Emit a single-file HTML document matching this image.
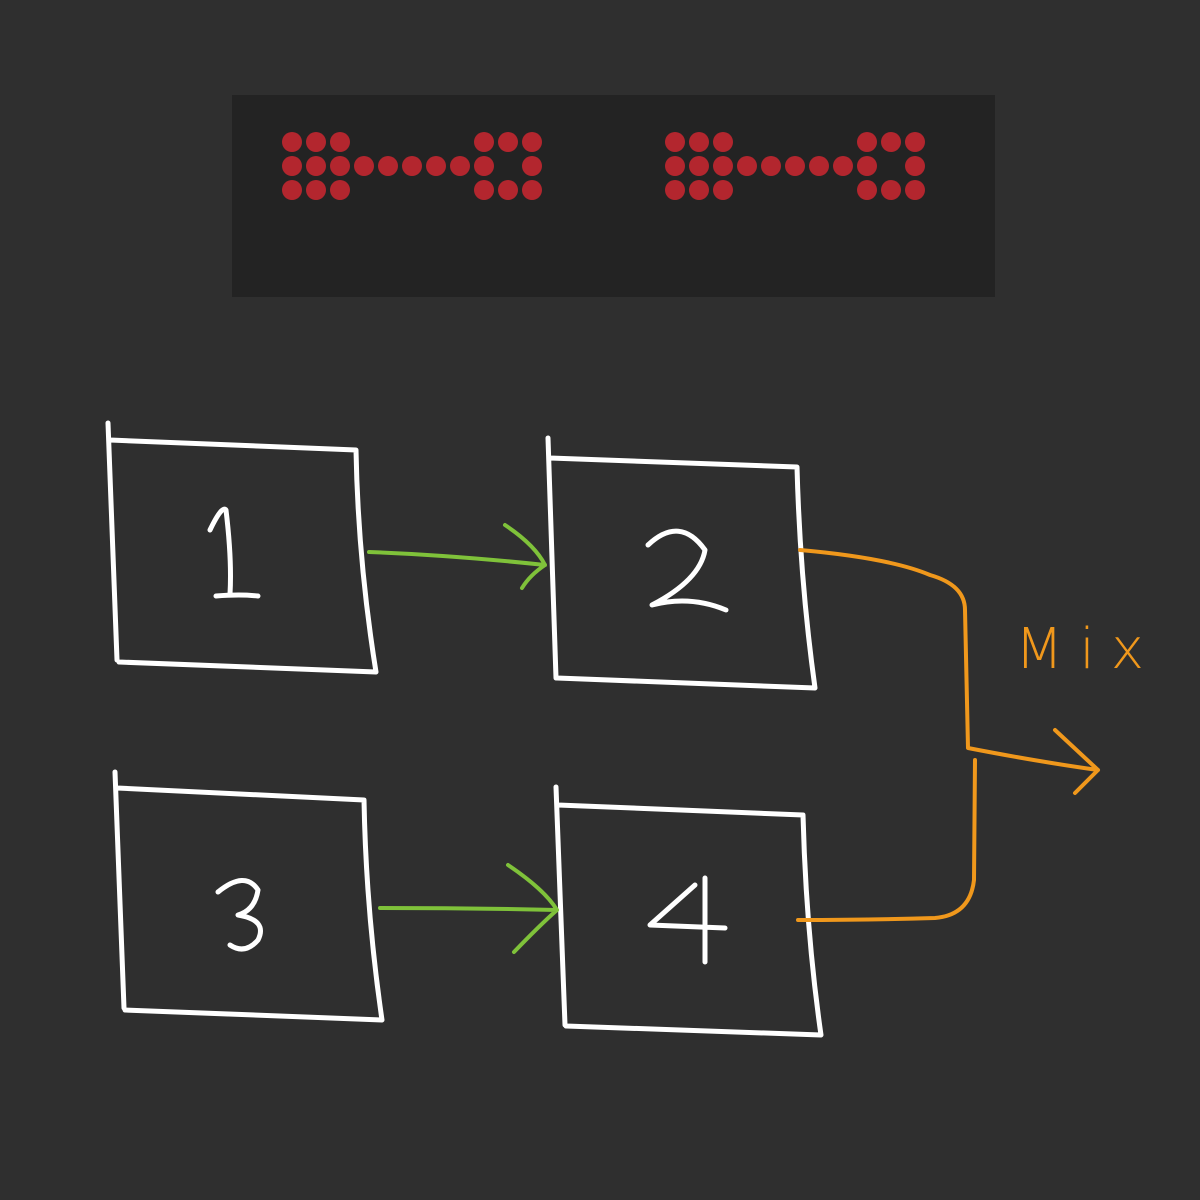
<!DOCTYPE html>
<html><head><style>
html,body{margin:0;padding:0;background:#2f2f2f;}
svg{display:block;}
</style></head><body>
<svg width="1200" height="1200" viewBox="0 0 1200 1200" xmlns="http://www.w3.org/2000/svg">
<rect width="1200" height="1200" fill="#2f2f2f"/>
<rect x="232" y="95" width="763" height="202" fill="#232323"/>
<g fill="#b3262e">
<g id="g1">
<circle cx="292" cy="142" r="10"/><circle cx="316" cy="142" r="10"/><circle cx="340" cy="142" r="10"/>
<circle cx="292" cy="166" r="10"/><circle cx="316" cy="166" r="10"/><circle cx="340" cy="166" r="10"/>
<circle cx="292" cy="190" r="10"/><circle cx="316" cy="190" r="10"/><circle cx="340" cy="190" r="10"/>
<circle cx="364" cy="166" r="10"/><circle cx="388" cy="166" r="10"/><circle cx="412" cy="166" r="10"/><circle cx="436" cy="166" r="10"/><circle cx="460" cy="166" r="10"/>
<circle cx="484" cy="142" r="10"/><circle cx="508" cy="142" r="10"/><circle cx="532" cy="142" r="10"/>
<circle cx="484" cy="166" r="10"/><circle cx="532" cy="166" r="10"/>
<circle cx="484" cy="190" r="10"/><circle cx="508" cy="190" r="10"/><circle cx="532" cy="190" r="10"/>
</g>
<use href="#g1" x="383"/>
</g>
<g fill="none" stroke="#ffffff" stroke-width="5" stroke-linecap="round" stroke-linejoin="round">
<path d="M108 423 L117 660 M110 440 L356 450 Q358 560 376 672 L119 662"/>
<path d="M548 438 L556 678 M550 458 L797 467 Q800 580 815 688 L557 678"/>
<path d="M115 772 L124 1008 M117 788 L364 800 Q366 910 382 1020 L125 1010"/>
<path d="M556 787 L565 1025 M558 805 L803 815 Q806 930 821 1035 L566 1026"/>
<path d="M210 530 Q222 505 226 510 Q232 560 230 594 M216 596 Q240 594 258 596"/>
<path d="M648 545 Q680 515 705 550 Q700 580 652 605 Q690 595 726 610"/>
<path d="M218 892 Q245 870 258 890 Q255 910 238 915 Q268 920 258 940 Q245 955 230 945"/>
<path d="M695 885 L650 925 L725 928 M705 878 L705 962"/>
</g>
<g fill="none" stroke="#7fc23a" stroke-width="4" stroke-linecap="round" stroke-linejoin="round">
<path d="M369 552 Q450 555 545 565 M505 525 Q535 545 545 565 Q530 575 522 588"/>
<path d="M380 908 Q470 908 557 910 M508 865 Q545 890 557 910 Q540 925 514 952"/>
</g>
<g fill="none" stroke="#f0981c" stroke-width="4" stroke-linecap="round" stroke-linejoin="round">
<path d="M800 550 Q890 558 930 575 Q965 585 965 610 L968 748 Q1040 762 1098 770 M1055 730 L1098 770 L1075 793"/>
<path d="M798 920 Q870 920 935 918 Q970 915 974 880 L975 760"/>
</g>
<text x="1015" y="668" font-family="DejaVu Sans, sans-serif" font-size="56" font-weight="300" letter-spacing="6" fill="#f0981c" textLength="135">Mix</text>
</svg>
</body></html>
